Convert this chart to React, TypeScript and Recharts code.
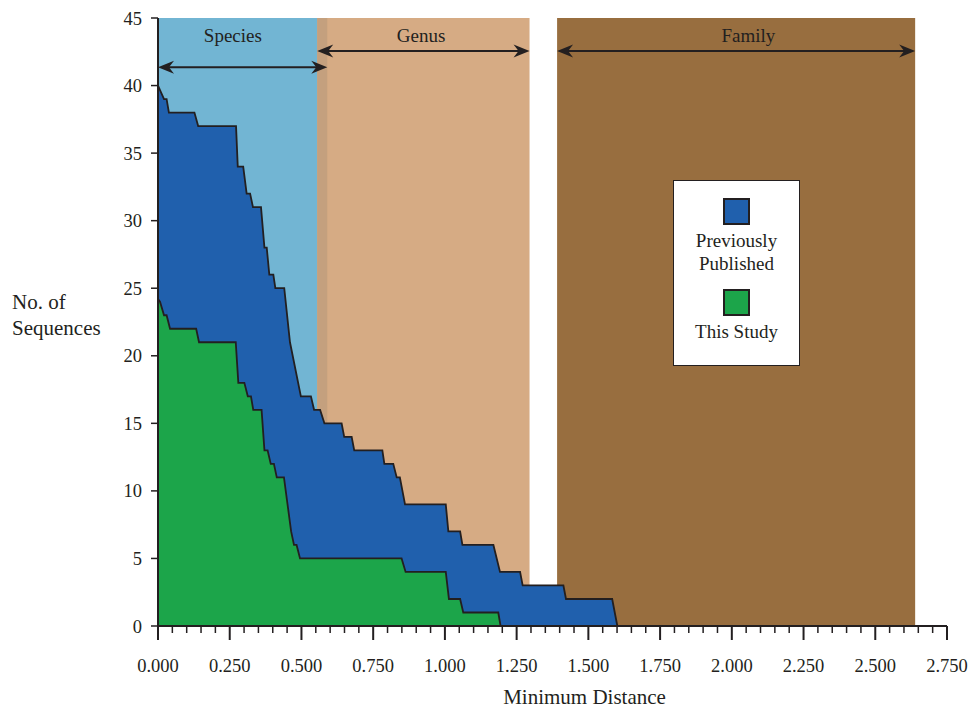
import React from "react";
import {
  Area,
  ComposedChart,
  Legend,
  ReferenceArea,
  ReferenceDot,
  ReferenceLine,
  XAxis,
  YAxis
} from "recharts";

const FONT = '"Liberation Serif", "Times New Roman", serif';
const INK = "#231f20";
const PUBLISHED_FILL = "#2060ad";
const STUDY_FILL = "#1ca54a";

// step outline of the total (previously published + this study)
const publishedX = [
  0, 0.021, 0.03, 0.038, 0.127, 0.14, 0.272, 0.278, 0.297, 0.309, 0.321, 0.331, 0.359,
  0.371, 0.379, 0.388, 0.402, 0.409, 0.44, 0.46, 0.498, 0.533, 0.544, 0.565, 0.58, 0.64,
  0.649, 0.675, 0.684, 0.782, 0.789, 0.82, 0.832, 0.843, 0.861, 1.003, 1.012, 1.053,
  1.061, 1.169, 1.192, 1.262, 1.271, 1.413, 1.422, 1.583, 1.601
];
const publishedY = [
  40, 39, 39, 38, 38, 37, 37, 34, 34, 32, 32, 31, 31,
  28, 28, 26, 26, 25, 25, 21, 17, 17, 16, 16, 15, 15,
  14, 14, 13, 13, 12, 12, 11, 11, 9, 9, 7, 7,
  6, 6, 4, 4, 3, 3, 2, 2, 0
];

// step outline of the sequences from this study
const studyX = [
  0, 0.007, 0.021, 0.03, 0.042, 0.133, 0.143, 0.271, 0.28, 0.301, 0.313, 0.324, 0.332,
  0.361, 0.371, 0.382, 0.393, 0.404, 0.414, 0.439, 0.464, 0.474, 0.483, 0.495, 0.849,
  0.863, 1.003, 1.014, 1.053, 1.064, 1.186, 1.194
];
const studyY = [
  24.2, 24, 23, 23, 22, 22, 21, 21, 18, 18, 17, 17, 16,
  16, 13, 13, 12, 12, 11, 11, 7, 6, 6, 5, 5,
  4, 4, 2, 2, 1, 1, 0
];

const bandNames = ["Species", "Genus", "Family"];
const bandStart = [0, 0.555, 1.391];
const bandEnd = [0.59, 1.295, 2.639];
const bandColors = ["#72b5d3", "#d6ab84", "#986e3f"];
const overlapColor = "#c4a07e";
const arrowLevel = [41.35, 42.55, 42.55];
const bandLabelX = [0.261, 0.917, 2.058];
const bandLabelLevel = 43.75;

const xMajorTicks = [0, 0.25, 0.5, 0.75, 1, 1.25, 1.5, 1.75, 2, 2.25, 2.5, 2.75];
const xTicks = Array.from({ length: 56 }, (_, i) => Math.round(i * 5) / 100);
const yTicks = [0, 5, 10, 15, 20, 25, 30, 35, 40, 45];

const legendFills: Record<string, string> = {
  "Previously Published": PUBLISHED_FILL,
  "This Study": STUDY_FILL
};

const rows = [
  ...publishedX.map((x, i) => ({ x, published: publishedY[i] })),
  ...studyX.map((x, i) => ({ x, study: studyY[i] }))
].sort((a, b) => a.x - b.x);

function XTick(props: any) {
  const { x, y, payload } = props;
  const v = payload.value;
  const major = xMajorTicks.some((t) => Math.abs(t - v) < 1e-6);
  return (
    <g>
      <line
        x1={x}
        x2={x}
        y1={y}
        y2={y + (major ? 14 : 7)}
        stroke={INK}
        strokeWidth={major ? 2 : 1.5}
      />
      {major && (
        <text x={x} y={y + 46} textAnchor="middle" fontFamily={FONT} fontSize={18.5} fill={INK}>
          {v.toFixed(3)}
        </text>
      )}
    </g>
  );
}

function DoubleArrow(props: any) {
  const { x1, y1, x2 } = props;
  const L = 16;
  const H = 6.5;
  const N = 11;
  const left = `M${x1},${y1} L${x1 + L},${y1 - H} L${x1 + N},${y1} L${x1 + L},${y1 + H} Z`;
  const right = `M${x2},${y1} L${x2 - L},${y1 - H} L${x2 - N},${y1} L${x2 - L},${y1 + H} Z`;
  return (
    <g>
      <line x1={x1 + 6} x2={x2 - 6} y1={y1} y2={y1} stroke={INK} strokeWidth={2} />
      <path d={left} fill={INK} />
      <path d={right} fill={INK} />
    </g>
  );
}

function YTitle() {
  return (
    <text fontFamily={FONT} fontSize={21} fill={INK}>
      <tspan x={12} y={309}>
        No. of
      </tspan>
      <tspan x={12} y={335}>
        Sequences
      </tspan>
    </text>
  );
}

function XTitle(props: any) {
  const vb = props.viewBox || { x: 158, width: 789 };
  return (
    <text
      x={vb.x + vb.width / 2 + 32}
      y={704}
      textAnchor="middle"
      fontFamily={FONT}
      fontSize={21}
      fill={INK}
    >
      Minimum Distance
    </text>
  );
}

function LegendBox(props: any) {
  const items = props.payload || [];
  return (
    <div
      style={{
        boxSizing: "border-box",
        width: 127,
        height: 186,
        border: `1.5px solid ${INK}`,
        background: "#fff",
        paddingTop: 17,
        fontFamily: FONT,
        fontSize: 19,
        lineHeight: "23px",
        color: INK,
        textAlign: "center"
      }}
    >
      {items.map((item: any, i: number) => (
        <div key={item.value} style={{ marginTop: i === 0 ? 0 : 14 }}>
          <div
            style={{
              boxSizing: "border-box",
              width: 27,
              height: 27,
              margin: "0 auto 4px",
              background: legendFills[item.value] || item.color,
              border: `2px solid ${INK}`
            }}
          />
          <div style={{ padding: "0 20px" }}>{item.value}</div>
        </div>
      ))}
    </div>
  );
}

export default function App() {
  return (
    <div style={{ position: "absolute", left: 0, top: 0, width: 972, height: 710, background: "#fff" }}>
      <ComposedChart
        width={972}
        height={710}
        data={rows}
        margin={{ top: 18, right: 25, bottom: 0, left: 0 }}
      >
        {bandNames.map((name, i) => (
          <ReferenceArea
            key={name}
            x1={bandStart[i]}
            x2={bandEnd[i]}
            y1={0}
            y2={45}
            fill={bandColors[i]}
            fillOpacity={1}
            stroke="none"
            zIndex={-60}
          />
        ))}
        <ReferenceArea
          x1={bandStart[1]}
          x2={bandEnd[0]}
          y1={0}
          y2={45}
          fill={overlapColor}
          fillOpacity={1}
          stroke="none"
          zIndex={-60}
        />
        <Area
          dataKey="published"
          name="Previously Published"
          type="linear"
          fill={PUBLISHED_FILL}
          fillOpacity={1}
          stroke={INK}
          strokeWidth={1.8}
          connectNulls
          isAnimationActive={false}
          dot={false}
          activeDot={false}
        />
        <Area
          dataKey="study"
          name="This Study"
          type="linear"
          fill={STUDY_FILL}
          fillOpacity={1}
          stroke={INK}
          strokeWidth={1.8}
          connectNulls
          isAnimationActive={false}
          dot={false}
          activeDot={false}
        />
        {bandNames.map((name, i) => (
          <ReferenceLine
            key={`arrow-${name}`}
            segment={[
              { x: bandStart[i], y: arrowLevel[i] },
              { x: bandEnd[i], y: arrowLevel[i] }
            ]}
            shape={DoubleArrow}
          />
        ))}
        {bandNames.map((name, i) => (
          <ReferenceDot
            key={`label-${name}`}
            x={bandLabelX[i]}
            y={bandLabelLevel}
            r={0}
            stroke="none"
            label={{ value: name, position: "center", fill: INK, fontSize: 19, fontFamily: FONT }}
          />
        ))}
        <XAxis
          dataKey="x"
          type="number"
          domain={[0, 2.75]}
          ticks={xTicks}
          interval={0}
          allowDataOverflow
          height={84}
          tickSize={0}
          tickMargin={0}
          tickLine={false}
          tick={<XTick />}
          axisLine={{ stroke: INK, strokeWidth: 2 }}
          label={<XTitle />}
        />
        <YAxis
          type="number"
          domain={[0, 45]}
          ticks={yTicks}
          interval={0}
          width={158}
          tickSize={7}
          tickMargin={9}
          tickLine={{ stroke: INK, strokeWidth: 1.5 }}
          axisLine={{ stroke: INK, strokeWidth: 2 }}
          tick={{ fill: INK, fontSize: 18.5, fontFamily: FONT }}
          label={<YTitle />}
        />
        <Legend
          layout="horizontal"
          verticalAlign="middle"
          align="center"
          content={<LegendBox />}
          wrapperStyle={{ left: 673, top: 180, width: 127, height: 186 }}
        />
      </ComposedChart>
    </div>
  );
}
